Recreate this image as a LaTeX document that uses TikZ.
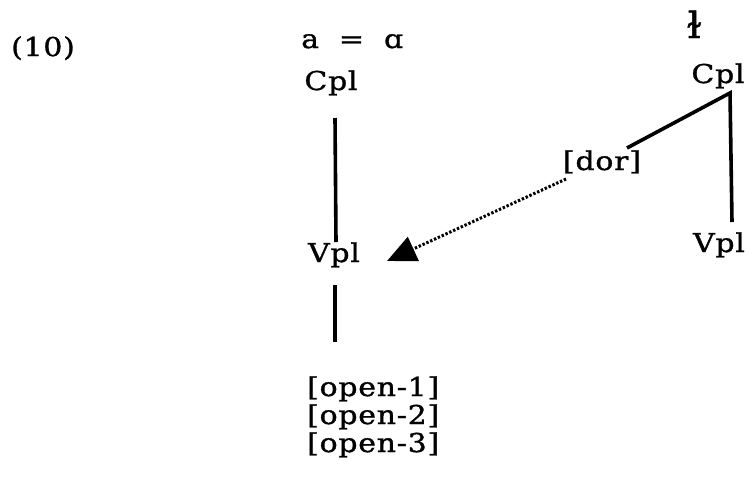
\documentclass[tikz,border=0pt]{standalone}
\usepackage{fontspec}
\setmainfont{DejaVu Serif}[FakeStretch=1.15,LetterSpace=3,FakeBold=1.2]
\usetikzlibrary{arrows.meta}
\begin{document}
\begin{tikzpicture}[x=1pt,y=-1pt,
  lbl/.style={inner sep=0pt,anchor=base,font=\fontsize{26}{30}\selectfont},
  lblw/.style={lbl,anchor=base west},
  branch/.style={line width=3.6pt},
  spread/.style={line width=3pt,dash pattern=on 2.4pt off 1.8pt,
    -{Triangle[length=29pt,width=26pt]}}]
\useasboundingbox (0,0) rectangle (750,483);

% example number
\node[lbl] (num) at (43,56) {(10)};

% left-hand tree
\node[lblw] (eq)  at (301,48) {a\hspace{20pt}=\hspace{20pt}ɑ};
\node[lbl] (lc)  at (331,90) {Cpl};
\node[lbl] (lv)  at (334,262) {Vpl};
\node[lblw] (o1) at (307,396) {[open-1]};
\node[lblw] (o2) at (307,424) {[open-2]};
\node[lblw] (o3) at (307,452) {[open-3]};

% right-hand tree
\node[lbl,font=\fontsize{36}{40}\selectfont] (dl) at (694,38) {ɫ};
\node[lbl] (rc)  at (718,83) {Cpl};
\node[lbl] (dor) at (602,170) {[dor]};
\node[lbl] (rv)  at (719,252) {Vpl};

% branch ends
\coordinate (lcB) at (335,118);
\coordinate (lvT) at (336,242);
\coordinate (lvB) at (335,285);
\coordinate (oT)  at (335,342);
\coordinate (rcB) at (730,93);
\coordinate (dorT) at (627,148);
\coordinate (rvT) at (732,222);
\coordinate (dorL) at (566,179);
\coordinate (tip) at (387,261);

\draw[branch] (lcB) -- (lvT);
\draw[branch] (lvB) -- (oT);
\draw[branch,line join=miter] (dorT) -- (rcB) -- (rvT);
\draw[spread] (dorL) -- (tip);
\end{tikzpicture}
\end{document}
